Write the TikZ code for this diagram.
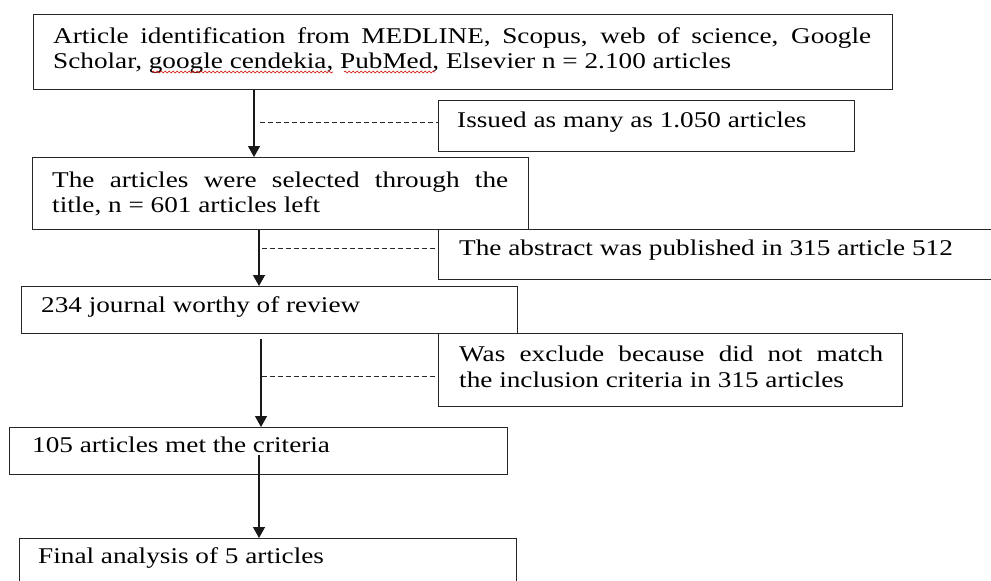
\documentclass[tikz,border=0pt]{standalone}
\usepackage{fontspec}
\setmainfont{Liberation Serif}[FakeStretch=1.21]
\usetikzlibrary{arrows.meta,decorations.pathmorphing}
\tikzset{
  box/.style={draw=black!85, line width=1.3pt, anchor=north west, inner sep=0pt},
  txt/.style={anchor=base west, inner sep=0pt, font=\fontsize{22.5}{25}\selectfont},
  flow/.style={draw=black!90, line width=1.3pt, -{Triangle[length=11pt,width=12pt]}},
  side/.style={draw=black!85, line width=0.9pt, dash pattern=on 5pt off 3pt},
  squiggle/.style={draw=red!85!black, line width=0.6pt, decorate,
    decoration={snake, segment length=4pt, amplitude=0.9pt}}
}
\begin{document}
\begin{tikzpicture}[x=1pt, y=-1pt]
\useasboundingbox (0,0) rectangle (991,581);
\clip (0,0) rectangle (991,581);
\fill[white] (0,0) rectangle (991,581);

% boxes
\node[box, minimum width=859pt, minimum height=75pt] (b1) at (33,14) {};
\node[box, minimum width=416pt, minimum height=51pt] (b2) at (438,100) {};
\node[box, minimum width=496pt, minimum height=72pt] (b3) at (32,157) {};
\node[box, minimum width=580pt, minimum height=50pt] (b4) at (438,229) {};
\node[box, minimum width=496pt, minimum height=47pt] (b5) at (21,286) {};
\node[box, minimum width=464pt, minimum height=73pt] (b6) at (438,333) {};
\node[box, minimum width=498pt, minimum height=47pt] (b7) at (9,427) {};
\node[box, minimum width=497pt, minimum height=70pt] (b8) at (19,538) {};

% texts
\node[txt] (t1a) at (53,43) {\makebox[818pt][s]{Article identification from MEDLINE, Scopus, web of science, Google}};
\node[txt] (t1b) at (53,68) {Scholar, google cendekia, PubMed, Elsevier n = 2.100 articles};
\node[txt] (t2) at (457,127) {Issued as many as 1.050 articles};
\node[txt] (t3a) at (52,187) {\makebox[456pt][s]{The articles were selected through the}};
\node[txt] (t3b) at (52,212) {title, n = 601 articles left};
\node[txt] (t4) at (459,255) {The abstract was published in 315 article 512};
\node[txt] (t5) at (41,312) {234 journal worthy of review};
\node[txt] (t6a) at (459,361) {\makebox[424pt][s]{Was exclude because did not match}};
\node[txt] (t6b) at (459,387) {the inclusion criteria in 315 articles};
\node[txt] (t7) at (32,452) {105 articles met the criteria};
\node[txt] (t8) at (38,563) {Final analysis of 5 articles};

% spell-check squiggles
\draw[squiggle] (152,72) -- (333,72);
\draw[squiggle] (344,72) -- (435,72);

% main flow
\draw[flow] (b1.south -| 254,0) -- (b3.north -| 254,0);
\draw[flow] (b3.south -| 259,0) -- (b5.north -| 259,0);
\draw[flow, shorten <=5pt] (b5.south -| 261,0) -- (b7.north -| 261,0);
\coordinate (s4) at (259,455);
\draw[flow] (s4) -- (b8.north -| s4);

% side branches
\coordinate (j1) at (260,122);
\coordinate (j2) at (262,248);
\coordinate (j3) at (262,376);
\draw[side] (j1) -- (j1 -| b2.west);
\draw[side] (j2) -- (j2 -| b4.west);
\draw[side] (j3) -- (j3 -| b6.west);
\end{tikzpicture}
\end{document}
